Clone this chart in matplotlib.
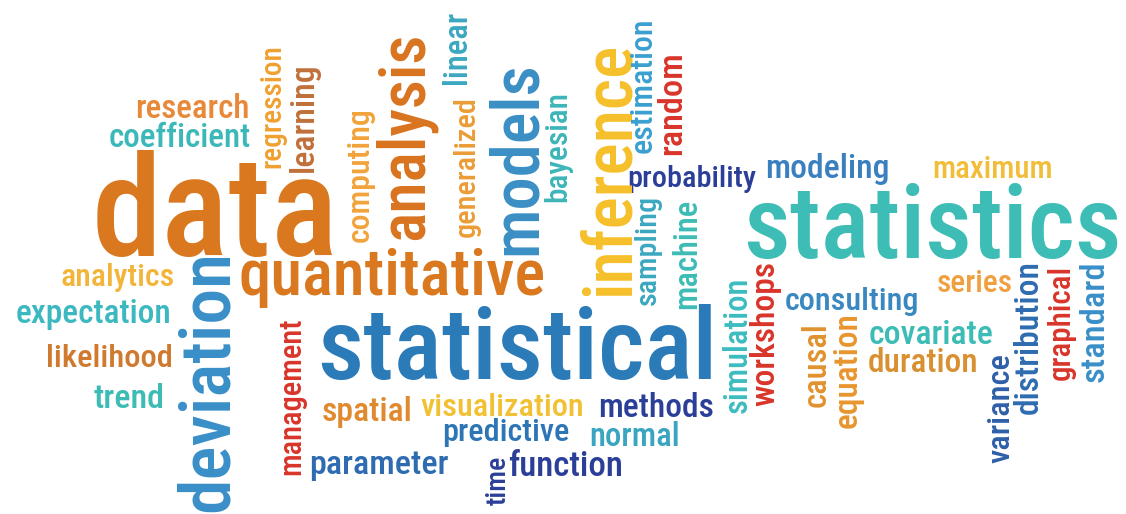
import matplotlib
matplotlib.use("Agg")
import matplotlib.pyplot as plt
from matplotlib.font_manager import FontProperties
from matplotlib.textpath import TextPath

# ---- data: the words of the cloud ----
horizontal_words = ["research", "coefficient", "data", "analytics", "expectation",
                    "likelihood", "trend", "quantitative", "statistical", "spatial",
                    "visualization", "methods", "predictive", "normal", "parameter",
                    "function", "consulting", "covariate", "duration", "series",
                    "probability", "modeling", "maximum", "statistics"]
vertical_words = ["regression", "learning", "computing", "analysis", "linear",
                  "generalized", "models", "bayesian", "inference", "estimation",
                  "random", "sampling", "machine", "deviation", "management", "time",
                  "simulation", "workshops", "causal", "equation", "variance",
                  "distribution", "graphical", "standard"]

# ---- layout (pixel space, y down): ink box x0, y0, x1, y1 and colour ----
h_box = [(135, 94, 250, 117), (108, 123, 252, 147), (92, 155, 337, 253),
         (57, 265, 178, 290), (13, 300, 173, 328), (48, 342, 170, 367),
         (93, 383, 163, 408), (235, 250, 550, 305), (313, 307, 718, 377),
         (322, 397, 412, 427), (420, 392, 583, 416), (600, 392, 713, 417),
         (442, 418, 570, 447), (590, 422, 680, 445), (310, 452, 450, 480),
         (507, 450, 623, 475), (783, 287, 920, 315), (868, 320, 995, 343),
         (868, 348, 978, 372), (937, 270, 1012, 292), (622, 167, 763, 190),
         (768, 152, 887, 185), (930, 157, 1055, 177), (744, 185, 1120, 258)]
h_col = ["#E8893A", "#3DB8B8", "#D9781F", "#F2B53A", "#3CB8C0", "#CF7A2E",
         "#3CBCB5", "#D9781F", "#2B7BB9", "#E08A30", "#F2C033", "#2B3F99",
         "#2E75B6", "#3AA5C0", "#2E6BB0", "#2B3F99", "#3A88C0", "#3CBCB5",
         "#D99030", "#F0A040", "#2B3F99", "#3A80C0", "#F2BE3A", "#3DBDB5"]

v_box = [(263, 37, 283, 175), (287, 65, 320, 170), (347, 105, 373, 245),
         (380, 27, 432, 245), (442, 10, 465, 83), (455, 90, 478, 243),
         (485, 65, 537, 250), (545, 88, 570, 205), (580, 37, 626, 299),
         (630, 15, 650, 157), (655, 53, 682, 152), (635, 193, 660, 307),
         (672, 200, 697, 307), (170, 257, 233, 507), (283, 308, 303, 483),
         (488, 453, 503, 508), (723, 278, 747, 413), (750, 260, 780, 407),
         (803, 322, 825, 408), (833, 312, 862, 428), (988, 350, 1008, 467),
         (1012, 262, 1038, 412), (1050, 260, 1073, 385), (1078, 262, 1103, 382)]
v_col = ["#F0A030", "#C0703A", "#F2A33A", "#D9731F", "#3AA8C0", "#EB9C35",
         "#3A8FC4", "#3DB5B8", "#F5C02A", "#3AA0D0", "#D9352A", "#3AA8C0",
         "#3CBCB5", "#3A8FC8", "#D9352A", "#2B3F99", "#3CBCC0", "#D9352A",
         "#E0922E", "#E8952E", "#2E5FA8", "#2E6BB0", "#D9352A", "#3A8FC8"]

FONT = "Roboto Condensed"
WEIGHT = 500
DPI = 100
W_ALONG = 0.7    # weight of the length fit against the thickness fit

fig = plt.figure(figsize=(11.26, 5.14), dpi=DPI)
ax = fig.add_axes([0, 0, 1, 1])
ax.set_xlim(0, 1126)
ax.set_ylim(514, 0)
ax.axis("off")
fp = FontProperties(family=FONT, weight=WEIGHT)


def place(word, box, color, vertical):
    e = TextPath((0, 0), word, size=100, prop=fp).get_extents()
    x0, y0, x1, y1 = box
    if vertical:
        length, thick = y1 - y0, x1 - x0
    else:
        length, thick = x1 - x0, y1 - y0
    s_l = length / e.width
    s_t = thick / e.height
    s = s_l ** W_ALONG * s_t ** (1 - W_ALONG)     # px per path unit
    s = min(s, 1.02 * s_l)
    fs = s * 100 * 72.0 / DPI
    cx, cy = (x0 + x1) / 2, (y0 + y1) / 2
    uc, vc = (e.x0 + e.x1) / 2, (e.y0 + e.y1) / 2
    if vertical:
        axx, axy, rot = cx + s * vc, cy + s * uc, 90
    else:
        axx, axy, rot = cx - s * uc, cy + s * vc, 0
    ax.text(axx, axy, word, fontsize=fs, fontproperties=fp, color=color,
            ha="left", va="baseline", rotation=rot, rotation_mode="anchor")


for w, b, c in zip(horizontal_words, h_box, h_col):
    place(w, b, c, False)
for w, b, c in zip(vertical_words, v_box, v_col):
    place(w, b, c, True)

fig.savefig("out.png", dpi=DPI, facecolor="white")
